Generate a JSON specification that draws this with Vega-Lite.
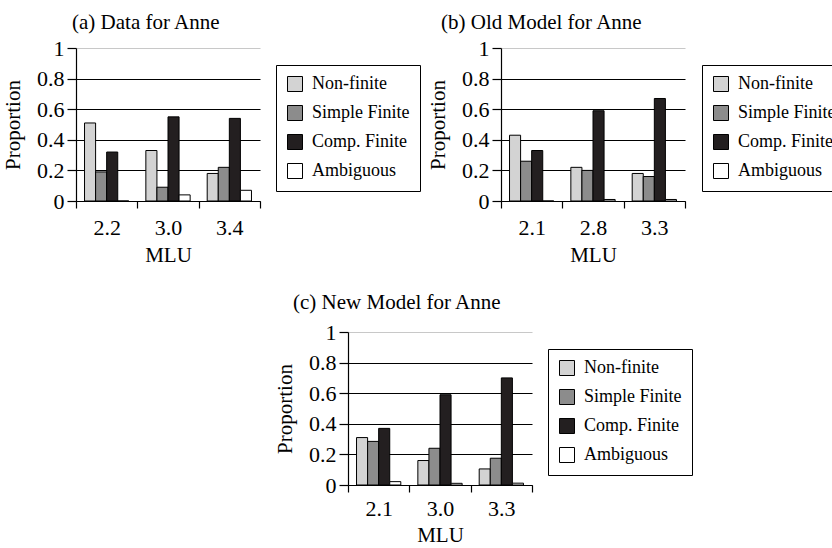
{
  "$schema": "https://vega.github.io/schema/vega-lite/v6.json",
  "padding": {"left": 2, "top": 11, "right": -12, "bottom": 0},
  "background": "white",
  "config": {
    "font": "Times New Roman, Liberation Serif, DejaVu Serif, serif",
    "view": {"stroke": null},
    "title": {"font": "Times New Roman, Liberation Serif, DejaVu Serif, serif", "fontSize": 21, "fontWeight": "normal", "color": "black", "anchor": "start", "frame": "group"},
    "axis": {
      "labelFont": "Times New Roman, Liberation Serif, DejaVu Serif, serif", "labelFontSize": 22, "labelColor": "black",
      "titleFont": "Times New Roman, Liberation Serif, DejaVu Serif, serif", "titleFontSize": 21, "titleFontWeight": "normal", "titleColor": "black",
      "domainColor": "black", "tickColor": "black", "domainWidth": 1.2, "tickWidth": 1.2
    },
    "axisX": {"tickSize": 7, "labelAngle": 0, "tickBand": "extent", "labelPadding": 9, "titlePadding": 6.5},
    "axisY": {"tickSize": 9, "labelPadding": 3, "titlePadding": 13, "gridWidth": 1.2},
    "legend": {
      "labelFont": "Times New Roman, Liberation Serif, DejaVu Serif, serif", "labelFontSize": 18, "labelColor": "black",
      "symbolType": "square", "symbolSize": 225, "symbolStrokeColor": "black", "symbolStrokeWidth": 1,
      "symbolOpacity": 1, "strokeColor": "black", "padding": 10, "rowPadding": 9, "labelOffset": 8,
      "title": null, "labelLimit": 200
    }
  },
  "data": {"values": [
    {"panel": "a", "mlu": "2.2", "type": "Non-finite", "value": 0.51},
    {"panel": "a", "mlu": "2.2", "type": "Simple Finite", "value": 0.19},
    {"panel": "a", "mlu": "2.2", "type": "Comp. Finite", "value": 0.32},
    {"panel": "a", "mlu": "2.2", "type": "Ambiguous", "value": 0},
    {"panel": "a", "mlu": "3.0", "type": "Non-finite", "value": 0.33},
    {"panel": "a", "mlu": "3.0", "type": "Simple Finite", "value": 0.09},
    {"panel": "a", "mlu": "3.0", "type": "Comp. Finite", "value": 0.55},
    {"panel": "a", "mlu": "3.0", "type": "Ambiguous", "value": 0.04},
    {"panel": "a", "mlu": "3.4", "type": "Non-finite", "value": 0.18},
    {"panel": "a", "mlu": "3.4", "type": "Simple Finite", "value": 0.22},
    {"panel": "a", "mlu": "3.4", "type": "Comp. Finite", "value": 0.54},
    {"panel": "a", "mlu": "3.4", "type": "Ambiguous", "value": 0.07},
    {"panel": "b", "mlu": "2.1", "type": "Non-finite", "value": 0.43},
    {"panel": "b", "mlu": "2.1", "type": "Simple Finite", "value": 0.26},
    {"panel": "b", "mlu": "2.1", "type": "Comp. Finite", "value": 0.33},
    {"panel": "b", "mlu": "2.1", "type": "Ambiguous", "value": 0},
    {"panel": "b", "mlu": "2.8", "type": "Non-finite", "value": 0.22},
    {"panel": "b", "mlu": "2.8", "type": "Simple Finite", "value": 0.2},
    {"panel": "b", "mlu": "2.8", "type": "Comp. Finite", "value": 0.59},
    {"panel": "b", "mlu": "2.8", "type": "Ambiguous", "value": 0.01},
    {"panel": "b", "mlu": "3.3", "type": "Non-finite", "value": 0.18},
    {"panel": "b", "mlu": "3.3", "type": "Simple Finite", "value": 0.16},
    {"panel": "b", "mlu": "3.3", "type": "Comp. Finite", "value": 0.67},
    {"panel": "b", "mlu": "3.3", "type": "Ambiguous", "value": 0.01},
    {"panel": "c", "mlu": "2.1", "type": "Non-finite", "value": 0.31},
    {"panel": "c", "mlu": "2.1", "type": "Simple Finite", "value": 0.285},
    {"panel": "c", "mlu": "2.1", "type": "Comp. Finite", "value": 0.37},
    {"panel": "c", "mlu": "2.1", "type": "Ambiguous", "value": 0.022},
    {"panel": "c", "mlu": "3.0", "type": "Non-finite", "value": 0.16},
    {"panel": "c", "mlu": "3.0", "type": "Simple Finite", "value": 0.24},
    {"panel": "c", "mlu": "3.0", "type": "Comp. Finite", "value": 0.59},
    {"panel": "c", "mlu": "3.0", "type": "Ambiguous", "value": 0.011},
    {"panel": "c", "mlu": "3.3", "type": "Non-finite", "value": 0.105},
    {"panel": "c", "mlu": "3.3", "type": "Simple Finite", "value": 0.175},
    {"panel": "c", "mlu": "3.3", "type": "Comp. Finite", "value": 0.7},
    {"panel": "c", "mlu": "3.3", "type": "Ambiguous", "value": 0.012}
  ]},
  "spacing": 25,
  "resolve": {"scale": {"color": "independent", "x": "independent", "y": "independent"}, "legend": {"color": "independent"}},
  "vconcat": [
    {
      "hconcat": [
        {
          "width": 184, "height": 153,
          "title": {"text": "(a) Data for Anne", "dx": -4, "offset": 4.5},
          "transform": [{"filter": "datum.panel === 'a'"}],
          "mark": {"type": "bar", "stroke": "black", "strokeWidth": 1},
          "encoding": {
            "x": {"field": "mlu", "type": "nominal", "sort": null, "scale": {"paddingInner": 0, "paddingOuter": 0},
                  "axis": {"title": "MLU"}},
            "xOffset": {"field": "type", "type": "nominal", "scale": {"domain": ["Non-finite", "Simple Finite", "Comp. Finite", "Ambiguous"], "paddingInner": 0, "paddingOuter": 0.77}},
            "y": {"field": "value", "type": "quantitative", "scale": {"domain": [0, 1], "nice": false},
                  "axis": {"title": "Proportion", "values": [0, 0.2, 0.4, 0.6, 0.8, 1], "format": "~g",
                           "gridColor": {"condition": {"test": "datum.value === 1", "value": "#c8c8c8"}, "value": "black"}}},
            "color": {"field": "type", "type": "nominal",
                      "scale": {"domain": ["Non-finite", "Simple Finite", "Comp. Finite", "Ambiguous"], "range": ["#d3d3d3", "#8c8c8c", "#231f20", "#ffffff"]},
                      "legend": {"orient": "none", "legendX": 200, "legendY": 17}}
          }
        },
        {
          "width": 184, "height": 153,
          "title": {"text": "(b) Old Model for Anne", "dx": -60, "offset": 4.5},
          "transform": [{"filter": "datum.panel === 'b'"}],
          "mark": {"type": "bar", "stroke": "black", "strokeWidth": 1},
          "encoding": {
            "x": {"field": "mlu", "type": "nominal", "sort": null, "scale": {"paddingInner": 0, "paddingOuter": 0},
                  "axis": {"title": "MLU"}},
            "xOffset": {"field": "type", "type": "nominal", "scale": {"domain": ["Non-finite", "Simple Finite", "Comp. Finite", "Ambiguous"], "paddingInner": 0, "paddingOuter": 0.77}},
            "y": {"field": "value", "type": "quantitative", "scale": {"domain": [0, 1], "nice": false},
                  "axis": {"title": "Proportion", "values": [0, 0.2, 0.4, 0.6, 0.8, 1], "format": "~g",
                           "gridColor": {"condition": {"test": "datum.value === 1", "value": "#c8c8c8"}, "value": "black"}}},
            "color": {"field": "type", "type": "nominal",
                      "scale": {"domain": ["Non-finite", "Simple Finite", "Comp. Finite", "Ambiguous"], "range": ["#d3d3d3", "#8c8c8c", "#231f20", "#ffffff"]},
                      "legend": {"orient": "none", "legendX": 201, "legendY": 17}}
          }
        }
      ],
      "spacing": 241,
      "bounds": "flush",
      "resolve": {"scale": {"color": "independent", "x": "independent", "y": "independent"}, "legend": {"color": "independent"}}
    },
    {
      "hconcat": [
        {
          "width": 272, "height": 153,
          "data": {"values": []},
          "mark": "point",
          "encoding": {}
        },
        {
          "width": 184, "height": 153,
          "title": {"text": "(c) New Model for Anne", "dx": -55, "offset": 8.5},
          "transform": [{"filter": "datum.panel === 'c'"}],
          "mark": {"type": "bar", "stroke": "black", "strokeWidth": 1},
          "encoding": {
            "x": {"field": "mlu", "type": "nominal", "sort": null, "scale": {"paddingInner": 0, "paddingOuter": 0},
                  "axis": {"title": "MLU", "labelPadding": 6, "titlePadding": 5}},
            "xOffset": {"field": "type", "type": "nominal", "scale": {"domain": ["Non-finite", "Simple Finite", "Comp. Finite", "Ambiguous"], "paddingInner": 0, "paddingOuter": 0.77}},
            "y": {"field": "value", "type": "quantitative", "scale": {"domain": [0, 1], "nice": false},
                  "axis": {"title": "Proportion", "values": [0, 0.2, 0.4, 0.6, 0.8, 1], "format": "~g",
                           "gridColor": {"condition": {"test": "datum.value === 1", "value": "#c8c8c8"}, "value": "black"}}},
            "color": {"field": "type", "type": "nominal",
                      "scale": {"domain": ["Non-finite", "Simple Finite", "Comp. Finite", "Ambiguous"], "range": ["#d3d3d3", "#8c8c8c", "#231f20", "#ffffff"]},
                      "legend": {"orient": "none", "legendX": 200, "legendY": 17}}
          }
        }
      ],
      "spacing": 0,
      "bounds": "flush",
      "resolve": {"scale": {"color": "independent", "x": "independent", "y": "independent"}, "legend": {"color": "independent"}}
    }
  ]
}
